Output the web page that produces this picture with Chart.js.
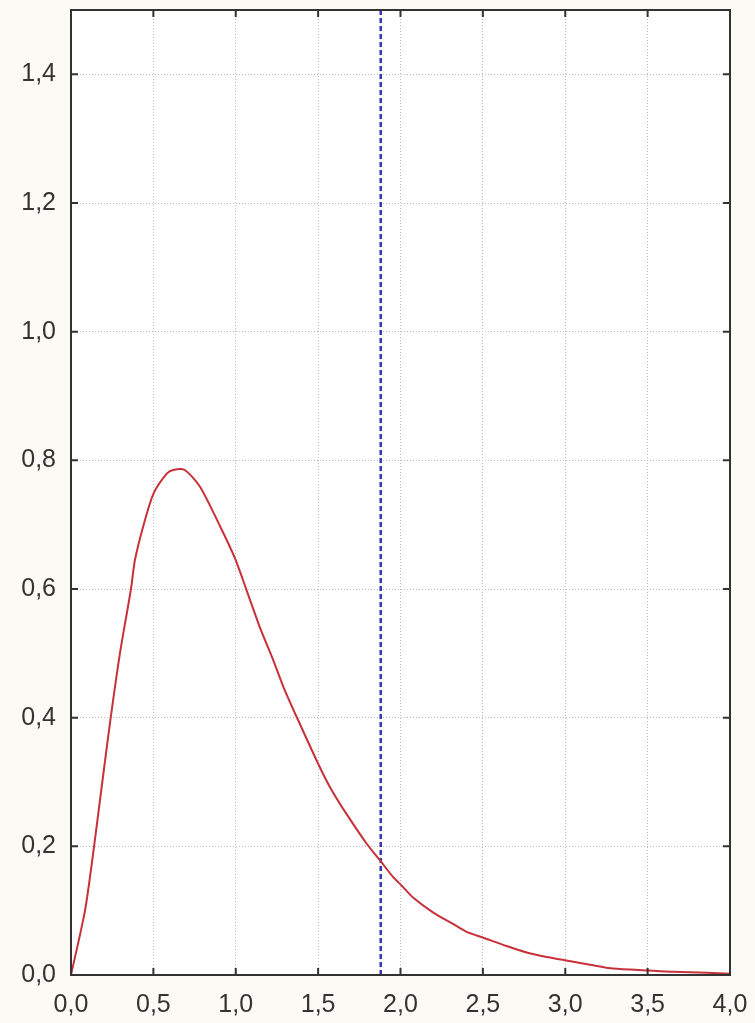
<!DOCTYPE html>
<html>
<head>
<meta charset="utf-8">
<script src="https://cdn.jsdelivr.net/npm/chart.js@4"></script>
<style>
  html, body { margin: 0; padding: 0; background: #fcfaf4; }
  #wrap { width: 755px; height: 1023px; }
</style>
</head>
<body>
<div id="wrap"><canvas id="densityChart" width="755" height="1023"></canvas></div>
<script>
// curve
const xValues = [0, 0.085, 0.14, 0.19, 0.241, 0.297, 0.364, 0.388, 0.439, 0.5, 0.58, 0.62, 0.69, 0.783, 0.904, 0.995,
  1.066, 1.147, 1.228, 1.289, 1.37, 1.501, 1.572, 1.673, 1.795, 1.876, 1.956, 2.007, 2.078, 2.199,
  2.321, 2.402, 2.503, 2.644, 2.766, 2.887, 2.998, 3.15, 3.29, 3.504, 3.656, 3.86, 4.0];
const densityValues = [0, 0.1, 0.2, 0.3, 0.4, 0.5, 0.6, 0.645, 0.698, 0.748, 0.779, 0.785, 0.785, 0.759, 0.698, 0.648,
  0.598, 0.54, 0.489, 0.448, 0.401, 0.328, 0.292, 0.25, 0.204, 0.178, 0.152, 0.139, 0.12, 0.097,
  0.079, 0.067, 0.058, 0.045, 0.035, 0.028, 0.023, 0.016, 0.01, 0.007, 0.005, 0.0035, 0.002];
const cutoffX = 1.88;
const xTicks = [0, 0.5, 1, 1.5, 2, 2.5, 3, 3.5, 4];
const yTicks = [0, 0.2, 0.4, 0.6, 0.8, 1.0, 1.2, 1.4];

const fmt = v => v.toFixed(1).replace('.', ',');

// frame + inward tick marks on all four sides
const frameTicks = {
  id: 'frameTicks',
  afterDraw(chart) {
    const { ctx, chartArea: a, scales } = chart;
    ctx.save();
    ctx.strokeStyle = '#333';
    ctx.lineWidth = 2;
    ctx.strokeRect(a.left, a.top, a.right - a.left, a.bottom - a.top);
    ctx.beginPath();
    xTicks.forEach(v => {
      const px = scales.x.getPixelForValue(v);
      ctx.moveTo(px, a.bottom); ctx.lineTo(px, a.bottom - 7);
      ctx.moveTo(px, a.top); ctx.lineTo(px, a.top + 7);
    });
    yTicks.forEach(v => {
      const py = scales.y.getPixelForValue(v);
      ctx.moveTo(a.left, py); ctx.lineTo(a.left + 7, py);
      ctx.moveTo(a.right, py); ctx.lineTo(a.right - 7, py);
    });
    ctx.stroke();
    ctx.restore();
  }
};

const plotBg = {
  id: 'plotBg',
  beforeDraw(chart) {
    const { ctx, chartArea: a } = chart;
    ctx.save();
    ctx.fillStyle = '#ffffff';
    ctx.fillRect(a.left, a.top, a.right - a.left, a.bottom - a.top);
    ctx.restore();
  }
};

const gridStyle = { color: '#bdbdbd', lineWidth: 1, drawTicks: false };
const tickFont = { family: 'Liberation Sans', size: 25 };

new Chart(document.getElementById('densityChart'), {
  type: 'line',
  data: {
    datasets: [{
      data: xValues.map((x, i) => ({ x: x, y: densityValues[i] })),
      borderColor: '#c8303a',
      borderWidth: 2,
      pointRadius: 0,
      tension: 0.25,
      fill: false
    }, {
      data: [{ x: cutoffX, y: 0 }, { x: cutoffX, y: 1.5 }],
      borderColor: '#3535b5',
      borderWidth: 2.5,
      borderDash: [5, 3],
      pointRadius: 0,
      fill: false
    }]
  },
  options: {
    responsive: false,
    animation: false,
    layout: { padding: { top: 10, right: 25, left: 0, bottom: 0 } },
    plugins: { legend: { display: false }, tooltip: { enabled: false } },
    scales: {
      x: {
        type: 'linear',
        min: 0, max: 4,
        afterBuildTicks: s => { s.ticks = xTicks.map(v => ({ value: v })); },
        afterFit: s => { s.height = 48; s.paddingLeft = 0; s.paddingRight = 0; },
        border: { display: false, dash: [1, 2] },
        grid: gridStyle,
        ticks: {
          padding: 15,
          color: '#333',
          font: tickFont,
          callback: v => fmt(v),
          maxRotation: 0
        }
      },
      y: {
        min: 0, max: 1.5,
        afterBuildTicks: s => { s.ticks = yTicks.map(v => ({ value: v })); },
        afterFit: s => { s.width = 71; s.paddingTop = 0; s.paddingBottom = 0; },
        border: { display: false, dash: [1, 2] },
        grid: gridStyle,
        ticks: {
          padding: 15,
          color: '#333',
          font: tickFont,
          callback: v => fmt(v)
        }
      }
    }
  },
  plugins: [plotBg, frameTicks]
});
</script>
</body>
</html>
